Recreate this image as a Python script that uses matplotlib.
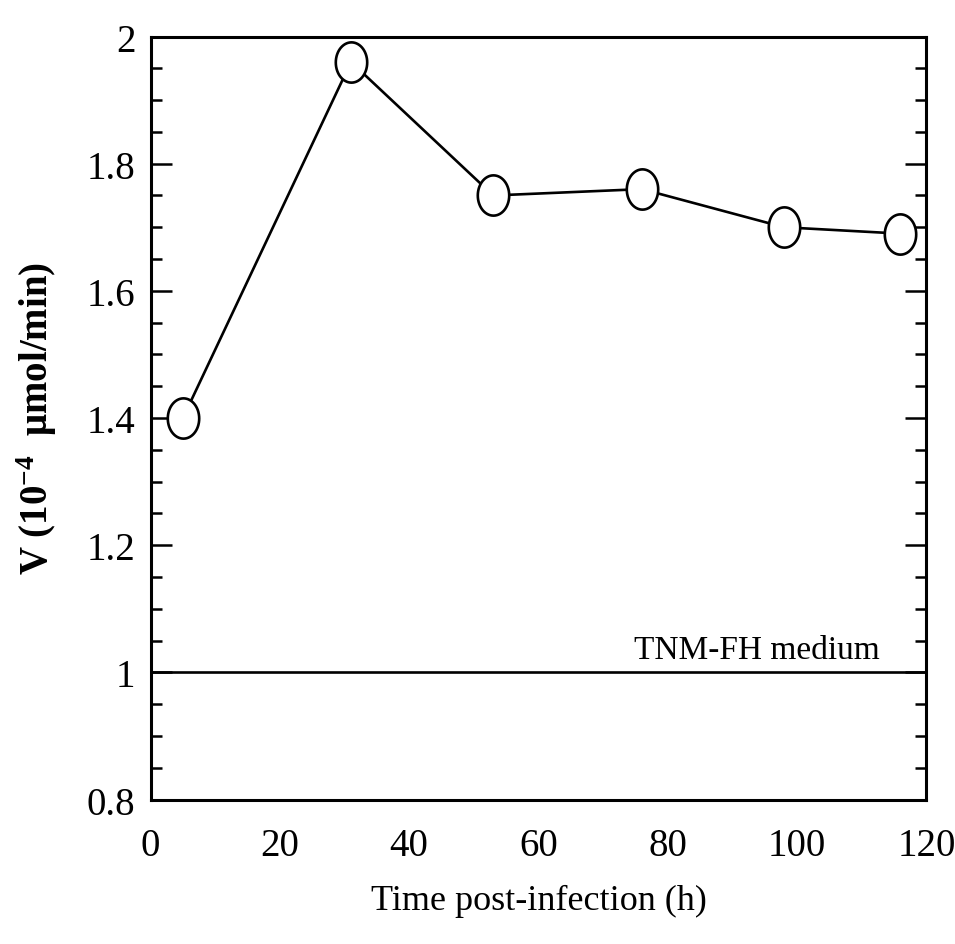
import matplotlib
matplotlib.use("Agg")
import matplotlib.pyplot as plt
from matplotlib.path import Path
from matplotlib.ticker import MultipleLocator
import numpy as np

# Enzyme velocity over the course of infection
time_h = [5, 31, 53, 76, 98, 116]
velocity = [1.40, 1.96, 1.75, 1.76, 1.70, 1.69]

# Reference level measured in uninfected medium
medium_level = 1.0
medium_label = "TNM-FH medium"

x_ticks = [0, 20, 40, 60, 80, 100, 120]
y_ticks = [0.8, 1, 1.2, 1.4, 1.6, 1.8, 2]
y_tick_labels = ["0.8", "1", "1.2", "1.4", "1.6", "1.8", "2"]

plt.rcParams["font.family"] = ["Liberation Serif", "DejaVu Serif"]
plt.rcParams["mathtext.default"] = "regular"

fig = plt.figure(figsize=(9.55, 9.45), dpi=100)
ax = fig.add_axes([0.1577, 0.1529, 0.8123, 0.8074])

# slightly tall open-circle marker
t = np.linspace(0, 2 * np.pi, 61)
oval = Path(np.column_stack([0.39 * np.cos(t), 0.5 * np.sin(t)]), closed=True)

ax.plot(time_h, velocity, color="black", lw=1.9, marker=oval, markersize=29,
        markerfacecolor="white", markeredgecolor="black", markeredgewidth=1.9,
        zorder=3)

ax.axhline(medium_level, color="black", lw=1.9, zorder=2)
ax.text(112.8, medium_level + 0.022, medium_label, ha="right", va="baseline",
        fontsize=24)

ax.set_xlim(0, 120)
ax.set_ylim(0.8, 2.0)
ax.set_xticks(x_ticks)
ax.set_yticks(y_ticks)
ax.set_yticklabels(y_tick_labels)
ax.yaxis.set_minor_locator(MultipleLocator(0.05))

for s in ax.spines.values():
    s.set_linewidth(2.2)

ax.tick_params(axis="x", which="major", direction="in", length=19, width=1.8,
               top=True, bottom=True, labelsize=28, pad=20)
ax.tick_params(axis="y", which="major", direction="in", length=15, width=1.8,
               left=True, right=True, labelsize=28, pad=11)
ax.tick_params(axis="y", which="minor", direction="in", length=8, width=1.8,
               left=True, right=True)

# hide the outer x tick marks that would sit on the side spines
for tk in ax.xaxis.get_major_ticks():
    if tk.get_loc() in (0, 120):
        tk.tick1line.set_visible(False)
        tk.tick2line.set_visible(False)

ax.set_xlabel("Time post-infection (h)", fontsize=26, labelpad=14)
ax.set_ylabel(r"V (10$^{-4}$  μmol/min)", fontsize=28, fontweight="bold",
              labelpad=20)

fig.savefig("out.png", dpi=100)
